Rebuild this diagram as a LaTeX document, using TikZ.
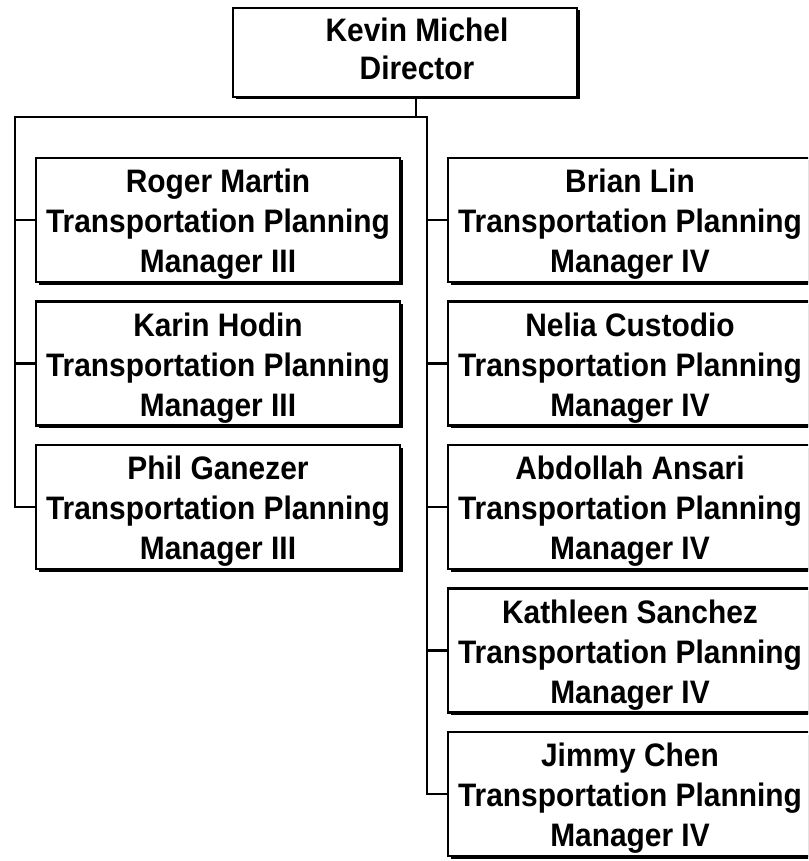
\documentclass[tikz,border=0pt]{standalone}
\usepackage{fontspec}
\newfontfamily\orgfont{Liberation Sans}[BoldFeatures={FakeStretch=0.92}]
\usetikzlibrary{shadows}
\newcommand\topstrut{\rule{0pt}{32pt}}
\newcommand\botstrut{\rule[-8pt]{0pt}{8pt}}
\tikzset{
  box/.style={draw, line width=2.2pt, fill=white, minimum width=364pt, minimum height=124pt,
    inner sep=0pt, align=center, font=\orgfont\bfseries\fontsize{32.5}{40}\selectfont,
    drop shadow={shadow xshift=2.5pt, shadow yshift=-2.5pt, opacity=1, fill=black}},
  topbox/.style={box, minimum width=344pt, minimum height=89pt, font=\orgfont\bfseries\fontsize{32.5}{38}\selectfont},
  conn/.style={line width=2.4pt, line join=miter}
}
\begin{document}
\begin{tikzpicture}[x=1pt,y=-1pt]
\path[use as bounding box, clip] (0,0) rectangle (808,861);
\node[topbox] (km) at (405,52.5) {\hspace*{24pt}Kevin Michel\\\hspace*{24pt}Director\botstrut};
% left column
\node[box] (rm) at (218,220) {\topstrut Roger Martin\\Transportation Planning\\Manager III};
\node[box] (kh) at (218,363.5) {\topstrut Karin Hodin\\Transportation Planning\\Manager III};
\node[box] (pg) at (218,507) {\topstrut Phil Ganezer\\Transportation Planning\\Manager III};
% right column
\node[box] (bl) at (630,220) {\topstrut Brian Lin\\Transportation Planning\\Manager IV};
\node[box] (nc) at (630,363.5) {\topstrut Nelia Custodio\\Transportation Planning\\Manager IV};
\node[box] (aa) at (630,507) {\topstrut Abdollah Ansari\\Transportation Planning\\Manager IV};
\node[box] (ks) at (630,650.5) {\topstrut Kathleen Sanchez\\Transportation Planning\\Manager IV};
\node[box] (jc) at (630,794) {\topstrut Jimmy Chen\\Transportation Planning\\Manager IV};
% connectors
\coordinate (stub) at (416,117);
\coordinate (busL) at (15,117);
\coordinate (busR) at (427,117);
\draw[conn] (stub |- km.south) -- (stub);
\draw[conn] (pg.west) -- (busL |- pg.west) -- (busL) -- (busR) -- (busR |- jc.west) -- (jc.west);
\draw[conn] (busL |- rm.west) -- (rm.west);
\draw[conn] (busL |- kh.west) -- (kh.west);
\draw[conn] (busR |- bl.west) -- (bl.west);
\draw[conn] (busR |- nc.west) -- (nc.west);
\draw[conn] (busR |- aa.west) -- (aa.west);
\draw[conn] (busR |- ks.west) -- (ks.west);
\end{tikzpicture}
\end{document}
